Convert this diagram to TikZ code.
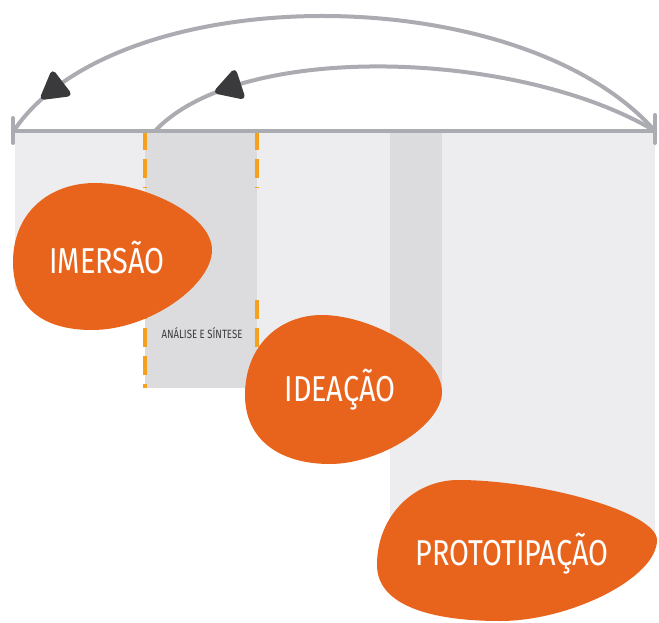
\documentclass[tikz,border=0pt]{standalone}
\usepackage{fontspec}
\usepackage{graphicx}
\setmainfont{Fira Sans}
\usetikzlibrary{shapes.geometric}
\definecolor{orng}{HTML}{E8631C}
\definecolor{lgrey}{HTML}{EDEDEF}
\definecolor{dgrey}{HTML}{DCDCDE}
\definecolor{lineg}{HTML}{ABABB2}
\definecolor{dashc}{HTML}{F4A11E}
\definecolor{tipc}{HTML}{3A3A3C}
\tikzset{
  blob/.style={fill=orng, draw=none},
  timeline/.style={draw=lineg, line width=4pt, line cap=round},
  arc/.style={draw=lineg, line width=4pt, line cap=round},
  phasedash/.style={draw=dashc, line width=3.2pt, dash pattern=on 19pt off 9pt},
  tiphead/.style={isosceles triangle, isosceles triangle apex angle=60, fill=tipc, draw=tipc,
    line width=6pt, line join=round, inner sep=0pt, minimum height=21pt, minimum width=23pt,
    sloped, allow upside down},
  bigtext/.style={text=white, font=\fontsize{36}{40}\selectfont, inner sep=0pt},
  smalltext/.style={text=tipc, font=\fontsize{12}{14}\selectfont, inner sep=0pt}
}
\begin{document}
\begin{tikzpicture}[x=1pt, y=-1pt]
\useasboundingbox (0,0) rectangle (659,623);
% background panels
\fill[lgrey] (15,131) rectangle (145,290);
\fill[dgrey] (145,131) rectangle (257,388);
\fill[lgrey] (257,131) rectangle (390,420);
\fill[lgrey] (390,131) rectangle (655,545);
\fill[dgrey] (390,131) rectangle (442,400);
% dashed phase boundaries
\draw[phasedash] (145,131) -- (145,188);
\draw[phasedash] (145,300) -- (145,388);
\draw[phasedash] (257,131) -- (257,188);
\draw[phasedash] (257,300) -- (257,388);
% timeline
\coordinate (tl) at (13,131);
\coordinate (tr) at (655,131);
\coordinate (tlTop) at (13,118);
\coordinate (tlBot) at (13,143);
\coordinate (trTop) at (655,115);
\coordinate (trBot) at (655,143);
\coordinate (a2) at (155,131);
\draw[timeline] (tl) -- (tr);
\draw[timeline] (tlTop) -- (tlBot);
\draw[timeline] (trTop) -- (trBot);
% loops back
\draw[arc] (tr) .. controls (520,-22) and (120,-22) .. (15,129)
  node[tiphead, pos=0.9] (h1) {};
\draw[arc] (tr) .. controls (520,50) and (240,40) .. (a2)
  node[tiphead, pos=0.79] (h2) {};
% blobs
\fill[blob] (13,262) .. controls (13,212) and (50,183) .. (95,183)
  .. controls (145,183) and (212,215) .. (212,250)
  .. controls (212,285) and (150,330) .. (92,330)
  .. controls (40,330) and (13,305) .. cycle;
\fill[blob] (245,395) .. controls (245,345) and (280,315) .. (322,315)
  .. controls (372,315) and (442,355) .. (442,392)
  .. controls (442,425) and (380,464) .. (330,464)
  .. controls (280,464) and (245,440) .. cycle;
\fill[blob] (377,565) .. controls (377,515) and (415,480) .. (458,480)
  .. controls (540,480) and (657,512) .. (657,540)
  .. controls (657,578) and (570,621) .. (500,621)
  .. controls (430,621) and (377,605) .. cycle;
% labels
\node[bigtext] (imersao) at (107,258) {\scalebox{0.8}[1]{IMERSÃO}};
\node[bigtext] (ideacao) at (340,390) {\scalebox{0.8}[1]{IDEAÇÃO}};
\node[bigtext] (proto) at (512,554) {\scalebox{0.8}[1]{PROTOTIPAÇÃO}};
\node[smalltext] (analise) at (202,333) {\scalebox{0.8}[1]{ANÁLISE E SÍNTESE}};
\end{tikzpicture}
\end{document}
